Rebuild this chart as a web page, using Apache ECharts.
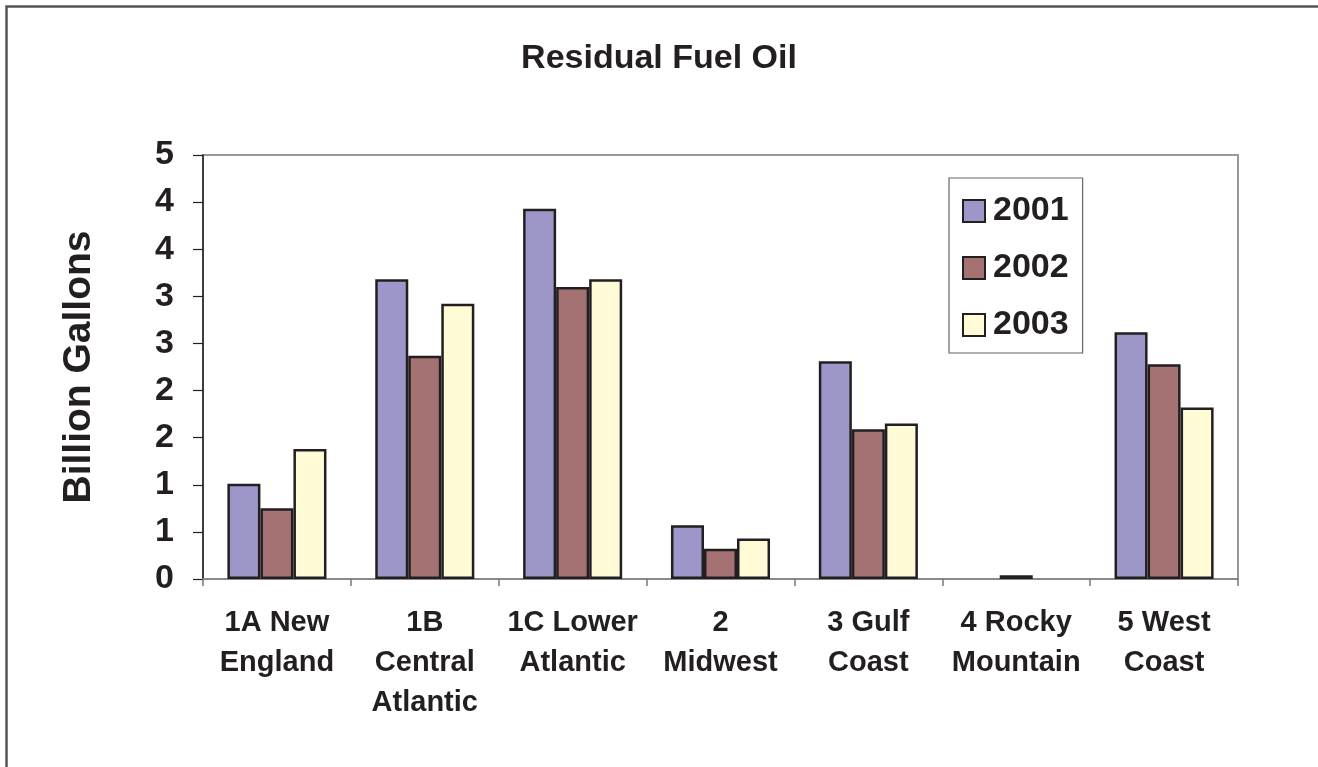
<!DOCTYPE html>
<html>
<head>
<meta charset="utf-8">
<script src="https://cdn.jsdelivr.net/npm/echarts@6/dist/echarts.min.js"></script>
<style>
html,body{margin:0;padding:0;background:#fff;}
#c{width:1318px;height:767px;}
</style>
</head>
<body>
<div id="c"></div>
<script>
const categories = ['1A New\nEngland', '1B\nCentral\nAtlantic', '1C Lower\nAtlantic', '2\nMidwest', '3 Gulf\nCoast', '4 Rocky\nMountain', '5 West\nCoast'];
const seriesNames = ['2001', '2002', '2003'];
const values2001 = [1.01, 3.18, 3.93, 0.57, 2.31, null, 2.62];
const values2002 = [0.75, 2.37, 3.10, 0.32, 1.59, 0.04, 2.28];
const values2003 = [1.38, 2.92, 3.18, 0.43, 1.65, null, 1.82];
const colors = ['#9d97c9', '#a47272', '#fffbd6'];
const yTicks = { min: 0, max: 4.5, interval: 0.5 };

const FONT = '"Liberation Sans", Arial, Helvetica, sans-serif';
const chart = echarts.init(document.getElementById('c'), null, { renderer: 'canvas' });
const allValues = [values2001, values2002, values2003];

const option = {
  backgroundColor: '#ffffff',
  animation: false,
  title: {
    text: 'Residual Fuel Oil',
    left: 'center',
    top: 37,
    textStyle: { fontFamily: FONT, fontSize: 34, fontWeight: 'bold', color: '#231f20' }
  },
  graphic: [{
    type: 'rect',
    silent: true,
    shape: { x: 6.5, y: 6.5, width: 1500, height: 1000 },
    style: { fill: 'none', stroke: '#555555', lineWidth: 2.5 }
  }],
  legend: {
    orient: 'vertical',
    left: 949,
    top: 178,
    padding: [16, 14, 11, 13],
    itemWidth: 22,
    itemHeight: 22,
    itemGap: 23,
    icon: 'rect',
    borderColor: '#666666',
    borderWidth: 1.2,
    backgroundColor: '#ffffff',
    textStyle: { fontFamily: FONT, fontSize: 34, fontWeight: 'bold', color: '#231f20', padding: [0, 0, 0, 3] },
    itemStyle: { borderColor: '#231f20', borderWidth: 2 },
    data: seriesNames
  },
  grid: {
    left: 203, top: 155, right: 80, bottom: 188,
    show: true,
    borderColor: '#999999',
    borderWidth: 2,
    backgroundColor: 'transparent'
  },
  xAxis: {
    type: 'category',
    data: categories,
    axisLine: { show: true, lineStyle: { color: '#8a8a8a', width: 2 } },
    axisTick: { show: true, length: 7, lineStyle: { color: '#777777', width: 1.5 } },
    axisLabel: {
      interval: 0,
      margin: 24,
      fontFamily: FONT,
      fontSize: 29,
      fontWeight: 'bold',
      color: '#231f20',
      lineHeight: 40
    }
  },
  yAxis: {
    type: 'value',
    min: yTicks.min,
    max: yTicks.max,
    interval: yTicks.interval,
    name: 'Billion Gallons',
    nameLocation: 'middle',
    nameRotate: 90,
    nameGap: 104,
    nameTextStyle: { fontFamily: FONT, fontSize: 39, fontWeight: 'bold', color: '#231f20' },
    axisLine: { show: true, lineStyle: { color: '#231f20', width: 1.5 } },
    axisTick: { show: true, length: 10, lineStyle: { color: '#231f20', width: 1.2 } },
    splitLine: { show: false },
    axisLabel: {
      margin: 29,
      fontFamily: FONT,
      fontSize: 34,
      fontWeight: 'bold',
      color: '#231f20',
      formatter: v => String(Math.round(v))
    }
  },
  series: seriesNames.map((name, i) => ({
    name: name,
    type: 'bar',
    data: allValues[i],
    barGap: '0%',
    barCategoryGap: '33%',
    itemStyle: { color: colors[i], borderColor: '#231f20', borderWidth: 2.5 },
    emphasis: { disabled: true }
  }))
};
chart.setOption(option);
</script>
</body>
</html>
